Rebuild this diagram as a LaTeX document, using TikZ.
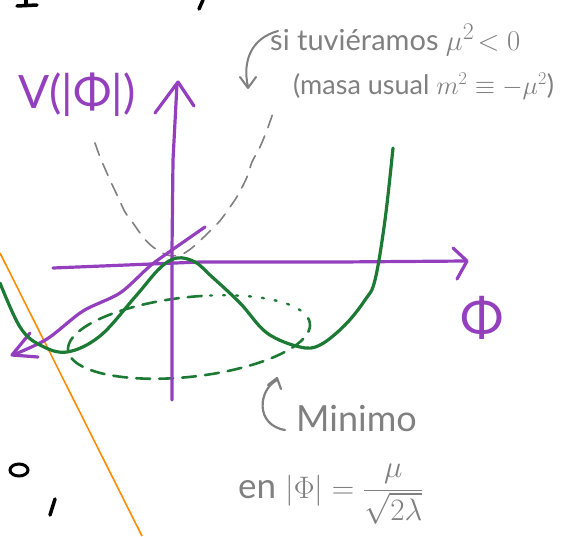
\documentclass[tikz,border=0pt]{standalone}
\usepackage{fontspec}
\setmainfont{Lato}
\begin{document}
\begin{tikzpicture}[x=1pt,y=-1pt,
  pur/.style={draw=purp,line width=3.2pt,line cap=round,line join=round},
  grn/.style={draw=grn,line width=3.2pt,line cap=round,line join=round},
  gry/.style={draw=gryc,line width=1.6pt,line cap=round,line join=round},
  blk/.style={draw=black,line width=3.5pt,line cap=round},
  lbl/.style={inner sep=0pt,text=gryc},
  plbl/.style={inner sep=0pt,text=purp}]
\definecolor{purp}{RGB}{148,64,190}
\definecolor{grn}{RGB}{28,122,52}
\definecolor{gryc}{RGB}{128,128,128}
\definecolor{orng}{RGB}{255,140,0}
\useasboundingbox (0,0) rectangle (573,536);
% black fragments
\draw[blk] (17,6) -- (37,5);
\draw[blk] (26,0) -- (26,5);
\draw[blk] (203,0) -- (199,9);
\draw[black,line width=3pt] (19,470) ellipse (9pt and 6pt);
\draw[blk] (55,499) -- (50,515);
% orange line
\draw[orng,line width=1.6pt] (0,253) -- (142,536);
% gray dashed parabola
\draw[gry,dash pattern=on 13pt off 9pt] plot[smooth] coordinates {(95,143) (100,157) (110,180) (118,197) (125,212) (133,223) (143,237) (153,247) (167,255) (180,255) (193,247) (218,223) (230,207) (238,195) (247,177) (252,162) (260,147) (267,130) (273,113)};
% green dashed ellipse
\draw[grn,line width=2.6pt,dash pattern=on 14pt off 9pt] plot[domain=-10:280,samples=80,smooth] ({189+121*cos(\x)},{337+40*sin(\x)-12*cos(\x)});
\draw[grn,line width=2.4pt,dash pattern=on 2pt off 11pt] plot[domain=-80:-10,samples=30,smooth] ({189+121*cos(\x)},{337+40*sin(\x)-12*cos(\x)});
% purple axes
\draw[pur] (172,400) -- (172,250) -- (173,160) -- (177,84);
\draw[pur] (155,113) -- (178,82) -- (194,106);
\draw[pur] (53,268) -- (200,262) -- (340,262) -- (466,261);
\draw[pur] (453,248) -- (467,261) -- (457,279);
\draw[pur] plot[smooth] coordinates {(205,227) (172,250) (150,266) (120,293) (83,311) (47,339) (13,355)};
\draw[pur] (30,333) -- (12,355) -- (38,357);
% green solid curve
\draw[grn] plot[smooth,tension=0.6] coordinates {(0,283) (20,327) (40,345) (67,352) (100,336) (135,297) (160,268) (177,258) (195,262) (210,275) (240,303) (267,333) (300,347) (320,345) (345,325) (365,300) (375,280) (385,220) (393,148)};
% gray arrows
\draw[gry,line width=2pt] (278,31) .. controls (252,38) and (242,60) .. (248,87);
\draw[gry,line width=2pt] (240,77) -- (248,88) -- (256,77);
\draw[gry,line width=2.2pt] (277,380) .. controls (258,390) and (255,425) .. (285,430);
\draw[gry,line width=2.2pt] (268,385) -- (277,378) -- (281,389);
% labels
\node[plbl,font=\fontsize{46}{46}\selectfont] (V) at (77,95) {V(|Φ|)};
\node[plbl,font=\fontsize{52}{52}\selectfont] (Phi) at (482,318) {Φ};
\node[lbl,font=\fontsize{29}{29}\selectfont,anchor=west] (t1) at (270,40) {si tuviéramos \scalebox{1.15}{$\mu^2\!<0$}};
\node[lbl,font=\fontsize{27}{27}\selectfont,anchor=west] (t2) at (293,86) {(masa usual \scalebox{1.05}{$m^2\equiv-\mu^2$})};
\node[lbl,font=\fontsize{36}{36}\selectfont,anchor=west] (t3) at (296,418) {Minimo};
\node[lbl,font=\fontsize{35}{35}\selectfont,anchor=west] (t4) at (238,494) {en \scalebox{1.25}{$\displaystyle|\Phi|=\frac{\mu}{\sqrt{2\lambda}}$}};
\end{tikzpicture}
\end{document}
